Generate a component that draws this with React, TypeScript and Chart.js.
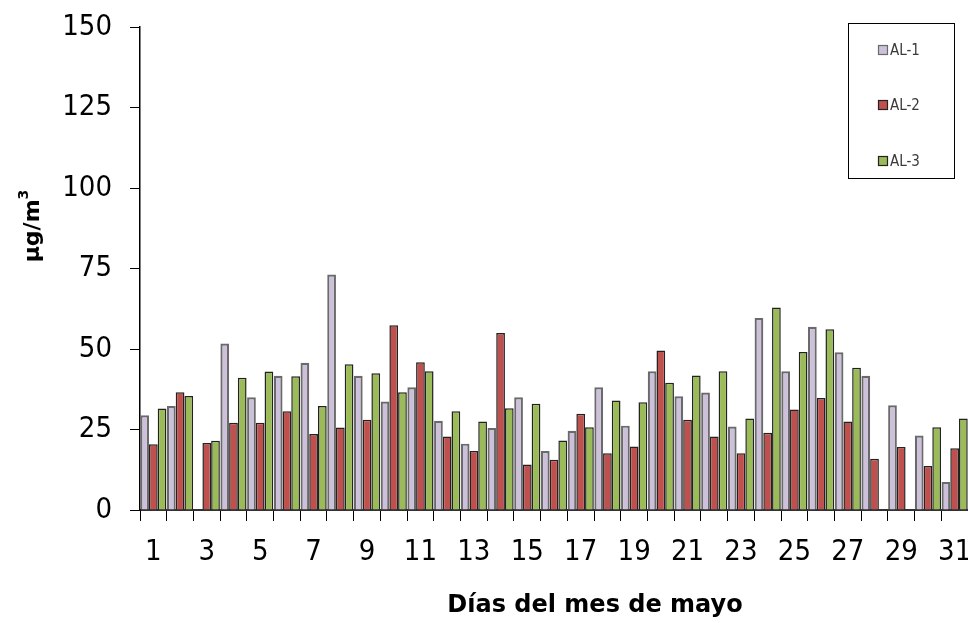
import React, { useEffect, useRef } from "react";
import { Chart, registerables } from "chart.js";

Chart.register(...registerables);

const days = ["1","2","3","4","5","6","7","8","9","10","11","12","13","14","15","16","17","18","19","20","21","22","23","24","25","26","27","28","29","30","31"];
const shownTicks = ["1","3","5","7","9","11","13","15","17","19","21","23","25","27","29","31"];
const yTicks = [0, 25, 50, 75, 100, 125, 150];

const al1 = [29.4, 32.3, null, 51.7, 35.0, 41.7, 45.7, 73.1, 41.7, 33.7, 38.1, 27.7, 20.6, 25.5, 35.0, 18.3, 24.6, 38.1, 26.2, 43.1, 35.3, 36.5, 25.9, 59.6, 43.1, 56.9, 49.0, 41.7, 32.5, 23.1, 8.7];
const al2 = [20.4, 36.6, 20.8, 27.1, 27.1, 30.7, 23.6, 25.6, 28.0, 57.4, 45.9, 22.8, 18.3, 55.0, 14.1, 15.6, 29.9, 17.6, 19.7, 49.5, 28.0, 22.8, 17.6, 24.0, 31.2, 34.8, 27.5, 15.9, 19.6, 13.7, 19.2];
const al3 = [31.5, 35.4, 21.5, 41.1, 43.0, 41.5, 32.3, 45.3, 42.5, 36.6, 43.1, 30.7, 27.5, 31.6, 33.0, 21.6, 25.7, 34.0, 33.5, 39.5, 41.8, 43.1, 28.4, 62.9, 49.1, 56.1, 44.2, null, null, 25.7, 28.4];

const seriesNames = ["AL-1", "AL-2", "AL-3"];

const FONT = '"DejaVu Sans Condensed", "Liberation Sans", sans-serif';
const BOLD_FONT = '"DejaVu Sans", sans-serif';

const overlayPlugin = {
  id: "overlay",
  afterDraw(chart: any) {
    const ctx = chart.ctx;
    ctx.save();
    // legend box
    ctx.strokeStyle = "#000";
    ctx.lineWidth = 1;
    ctx.strokeRect(848.5, 23.5, 106, 155);
    const ys = [50, 105, 161];
    chart.data.datasets.forEach((ds: any, i: number) => {
      const y = ys[i];
      ctx.fillStyle = ds.backgroundColor;
      ctx.fillRect(878, y - 4.5, 9, 9);
      ctx.strokeStyle = ds.borderColor;
      ctx.lineWidth = 1.2;
      ctx.strokeRect(878.5, y - 4.5, 9, 9);
      ctx.fillStyle = "#3a3a3a";
      ctx.font = "15px " + FONT;
      ctx.textAlign = "left";
      ctx.textBaseline = "middle";
      ctx.fillText(ds.label, 890, y + 1);
    });
    // x title
    ctx.fillStyle = "#000";
    ctx.font = "bold 24px " + BOLD_FONT;
    ctx.textAlign = "center";
    ctx.textBaseline = "middle";
    ctx.fillText("Días del mes de mayo", 595, 606);
    // y title
    ctx.translate(31, 226);
    ctx.rotate(-Math.PI / 2);
    const main = "µg/m";
    ctx.font = "bold 22px " + BOLD_FONT;
    const w1 = ctx.measureText(main).width;
    ctx.font = "bold 14px " + BOLD_FONT;
    const w2 = ctx.measureText("3").width;
    const total = w1 + w2;
    ctx.textAlign = "left";
    ctx.font = "bold 22px " + BOLD_FONT;
    ctx.fillText(main, -total / 2, 2);
    ctx.font = "bold 14px " + BOLD_FONT;
    ctx.fillText("3", -total / 2 + w1, -7);
    ctx.restore();
  },
};

export default function App() {
  const ref = useRef<HTMLCanvasElement | null>(null);
  useEffect(() => {
    if (!ref.current) return;
    const chart = new Chart(ref.current, {
      type: "bar",
      data: {
        labels: days,
        datasets: [
          { label: seriesNames[0], data: al1, backgroundColor: "#CCC0DA", borderColor: "#6a6a6a", borderWidth: 2.2 },
          { label: seriesNames[1], data: al2, backgroundColor: "#C0504D", borderColor: "#222222", borderWidth: 1.5 },
          { label: seriesNames[2], data: al3, backgroundColor: "#9BBB59", borderColor: "#222222", borderWidth: 1.5 },
        ],
      },
      options: {
        responsive: false,
        animation: false,
        devicePixelRatio: 1,
        layout: { padding: { top: 27, right: 0, bottom: 0, left: 0 } },
        datasets: { bar: { categoryPercentage: 0.98, barPercentage: 1.0 } },
        plugins: { legend: { display: false }, tooltip: { enabled: false }, title: { display: false } },
        scales: {
          x: {
            offset: true,
            grid: { display: true, offset: true, drawOnChartArea: false, drawTicks: true, tickLength: 11, color: "#000", lineWidth: 1 },
            border: { display: true, color: "#333", width: 2 },
            ticks: {
              autoSkip: false,
              maxRotation: 0,
              minRotation: 0,
              padding: 14,
              color: "#000",
              font: { family: FONT, size: 29 },
              callback: function (this: any, value: any, index: number) {
                const lab = days[index];
                return shownTicks.includes(lab) ? lab : "";
              },
            },
            afterFit: (scale: any) => { scale.height = 113; scale.paddingRight = 0; scale.paddingLeft = 0; },
          },
          y: {
            min: 0,
            max: 150,
            afterBuildTicks: (scale: any) => { scale.ticks = yTicks.map((v) => ({ value: v })); },
            grid: { display: true, drawOnChartArea: false, drawTicks: true, tickLength: 10, color: "#000", lineWidth: 1 },
            border: { display: true, color: "#000", width: 1.5 },
            ticks: { padding: 18, color: "#000", font: { family: FONT, size: 29 } },
            afterFit: (scale: any) => { scale.width = 140; scale.paddingTop = 0; scale.paddingBottom = 0; },
          },
        },
      },
      plugins: [overlayPlugin],
    } as any);
    return () => chart.destroy();
  }, []);
  return (
    <div style={{ position: "fixed", left: 0, top: 0, width: 968, height: 623, overflow: "hidden", background: "#fff" }}>
      <canvas ref={ref} width={968} height={623} style={{ display: "block" }} />
    </div>
  );
}
